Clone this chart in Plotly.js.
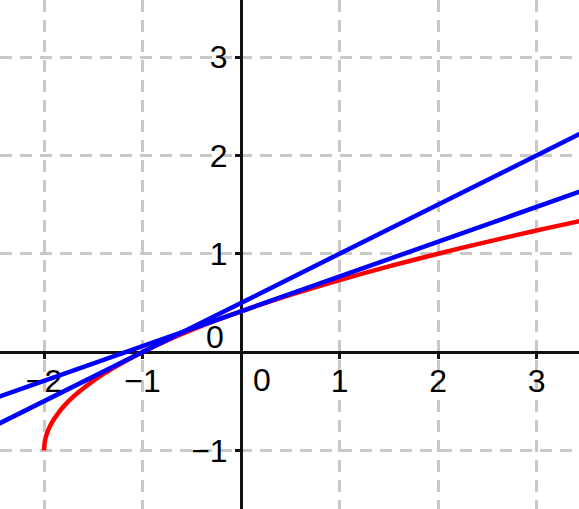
<!DOCTYPE html>
<html>
<head>
<meta charset="utf-8">
<script src="https://cdn.plot.ly/plotly-3.0.1.min.js"></script>
<style>html,body{margin:0;padding:0;background:#fff}#chart{width:579px;height:509px}</style>
</head>
<body>
<div id="chart"></div>
<script>
// Red curve
const curveX = [-2, -1.99, -1.97, -1.94, -1.9, -1.85, -1.8, -1.7, -1.6, -1.5, -1.4, -1.2, -1.0, -0.8, -0.6, -0.4, -0.2, 0, 0.25, 0.5, 0.75, 1, 1.25, 1.5, 1.75, 2, 2.25, 2.5, 2.75, 3, 3.25, 3.45];
const curveY = [-1, -0.9, -0.827, -0.755, -0.684, -0.613, -0.553, -0.452, -0.368, -0.293, -0.225, -0.106, 0, 0.095, 0.183, 0.265, 0.342, 0.414, 0.5, 0.581, 0.658, 0.732, 0.803, 0.871, 0.936, 1, 1.062, 1.121, 1.179, 1.236, 1.291, 1.335];
// Blue lines (endpoints)
const lineAX = [-2.5, 3.5];
const lineAY = [-0.75, 2.25];
const lineBX = [-2.5, 3.5];
const lineBY = [-0.471, 1.653];
// Ticks
const xTicks = [-2, -1, 1, 2, 3];
const yTicks = [-1, 1, 2, 3];
const originLabel = '0';

const xRange = [-2.447, 3.431];
const yRange = [-1.597, 3.581];
const xPos = (0 - xRange[0]) / (xRange[1] - xRange[0]);
const yPos = (0 - yRange[0]) / (yRange[1] - yRange[0]);

const font = {family: 'Liberation Sans, Arial, sans-serif', size: 32, color: '#000'};
const grid = {showgrid: true, gridcolor: '#c8c8c8', gridwidth: 3, griddash: '12px,8px'};

const traces = [
  {x: curveX, y: curveY, mode: 'lines', line: {color: '#ff0000', width: 4.5, shape: 'spline'}, hoverinfo: 'skip'},
  {x: lineAX, y: lineAY, mode: 'lines', line: {color: '#0000ff', width: 4.5}, hoverinfo: 'skip'},
  {x: lineBX, y: lineBY, mode: 'lines', line: {color: '#0000ff', width: 4.5}, hoverinfo: 'skip'}
];

const layout = {
  width: 579, height: 509,
  margin: {l: 0, r: 0, t: 0, b: 0, pad: 0},
  showlegend: false,
  paper_bgcolor: '#fff', plot_bgcolor: '#fff',
  font: font,
  xaxis: Object.assign({
    range: xRange, anchor: 'free', position: yPos,
    tickmode: 'array', tickvals: xTicks,
    zeroline: true, zerolinecolor: '#111', zerolinewidth: 3,
    showline: false, ticks: 'outside', ticklen: 6, tickwidth: 3, tickcolor: '#111',
    ticklabelstandoff: -5,
    tickfont: font, layer: 'below traces', fixedrange: true
  }, grid),
  yaxis: Object.assign({
    range: yRange, anchor: 'free', position: xPos,
    tickmode: 'array', tickvals: yTicks,
    zeroline: true, zerolinecolor: '#111', zerolinewidth: 3,
    showline: false, ticks: 'outside', ticklen: 6, tickwidth: 3, tickcolor: '#111',
    ticklabelstandoff: 1,
    tickfont: font, layer: 'below traces', fixedrange: true
  }, grid),
  annotations: [
    {x: 0, y: 0, xref: 'x', yref: 'y', text: originLabel, showarrow: false, font: font,
     xanchor: 'center', yanchor: 'middle', xshift: 21, yshift: -28},
    {x: 0, y: 0, xref: 'x', yref: 'y', text: originLabel, showarrow: false, font: font,
     xanchor: 'right', yanchor: 'middle', xshift: -15, yshift: 15}
  ]
};

Plotly.newPlot('chart', traces, layout, {staticPlot: true, displayModeBar: false});
</script>
</body>
</html>
